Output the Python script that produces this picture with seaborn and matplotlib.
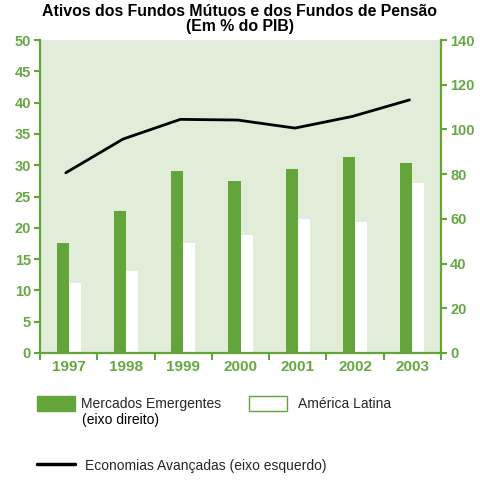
import numpy as np
import pandas as pd
import matplotlib
matplotlib.use("Agg")
import matplotlib.pyplot as plt
import matplotlib.patches as mpatches
from matplotlib.lines import Line2D
import seaborn as sns

anos = ["1997", "1998", "1999", "2000", "2001", "2002", "2003"]
mercados_emergentes = [17.6, 22.7, 29.1, 27.5, 29.4, 31.3, 30.4]
america_latina = [11.2, 13.1, 17.6, 18.8, 21.4, 20.9, 27.2]
economias_avancadas = [80.6, 95.7, 104.5, 104.2, 100.6, 105.8, 113.2]

titulo1 = "Ativos dos Fundos Mútuos e dos Fundos de Pensão"
titulo2 = "(Em % do PIB)"
lab_me = "Mercados Emergentes"
lab_me2 = "(eixo direito)"
lab_al = "América Latina"
lab_ea = "Economias Avançadas (eixo esquerdo)"

GREEN = "#63A53B"
TXT = "#66A843"
BG = "#E1EDD9"

sns.set_theme(style="white")
plt.rcParams["font.family"] = ["Liberation Sans", "DejaVu Sans"]

df = pd.DataFrame({
    "ano": anos * 2,
    "serie": ["ME"] * len(anos) + ["AL"] * len(anos),
    "valor": mercados_emergentes + america_latina,
})

fig = plt.figure(figsize=(4.8, 4.8), dpi=100)
ax = fig.add_axes([40 / 480, 1 - 353 / 480, 401 / 480, 313 / 480])
ax.set_facecolor(BG)

sns.barplot(data=df, x="ano", y="valor", hue="serie", hue_order=["ME", "AL"],
            palette={"ME": GREEN, "AL": "white"}, width=0.42, saturation=1,
            ax=ax, legend=False, errorbar=None, linewidth=0)
ax.set_xlim(-0.5, len(anos) - 0.5)
ax.set_ylim(0, 50)
ax.set_yticks(np.arange(0, 51, 5))
ax.set_xlabel("")
ax.set_ylabel("")

ax2 = ax.twinx()
sns.lineplot(x=np.arange(len(anos)) - 0.05, y=economias_avancadas, ax=ax2,
             color="black", linewidth=2)
ax2.set_ylim(0, 140)
ax2.set_yticks(np.arange(0, 141, 20))
ax2.set_xlim(-0.5, len(anos) - 0.5)

for a in (ax, ax2):
    for s in a.spines.values():
        s.set_visible(False)
ax.spines["left"].set_visible(True)
ax.spines["bottom"].set_visible(True)
ax2.spines["right"].set_visible(True)
for s in (ax.spines["left"], ax.spines["bottom"], ax2.spines["right"]):
    s.set_color(GREEN)
    s.set_linewidth(1.6)

ax.tick_params(axis="y", which="major", left=True, length=4.5, width=1.5,
               color=GREEN, labelcolor=TXT, labelsize=10.5, pad=2)
ax2.tick_params(axis="y", which="major", right=True, length=4.5, width=1.5,
                color=GREEN, labelcolor=TXT, labelsize=10.5, pad=2)
ax.set_xticks(np.arange(len(anos)))
ax.set_xticklabels(anos)
ax.set_xticks(np.arange(-0.5, len(anos)), minor=True)
ax.tick_params(axis="x", which="major", bottom=True, length=0, labelcolor=TXT,
               labelsize=11, pad=5)
ax.tick_params(axis="x", which="minor", bottom=True, length=5, width=1.5,
               color=GREEN)
for lbl in ax.get_xticklabels() + ax.get_yticklabels() + ax2.get_yticklabels():
    lbl.set_fontweight("bold")

fig.text(0.5, 1 - 15.5 / 480, titulo1, ha="center", va="baseline",
         fontsize=11.4, fontweight="bold", color="black")
fig.text(0.5, 1 - 30.5 / 480, titulo2, ha="center", va="baseline",
         fontsize=11.4, fontweight="bold", color="black")

h_me = mpatches.Patch(facecolor=GREEN, edgecolor=GREEN)
h_al = mpatches.Patch(facecolor="white", edgecolor=GREEN, linewidth=1)
h_ea = Line2D([], [], color="black", linewidth=2.5)

common = dict(frameon=False, fontsize=10, handlelength=2.75, handleheight=1.25,
              handletextpad=0.45, borderpad=0, borderaxespad=0)
fig.legend([h_me], [lab_me], loc="upper left",
           bbox_to_anchor=(37 / 480, 1 - 396 / 480), **common)
fig.text(82 / 480, 1 - 413 / 480, lab_me2, ha="left", va="top", fontsize=10,
         color="black")
fig.legend([h_al], [lab_al], loc="upper left",
           bbox_to_anchor=(249 / 480, 1 - 396 / 480),
           **{**common, "handletextpad": 0.75})
fig.legend([h_ea], [lab_ea], loc="upper left",
           bbox_to_anchor=(37 / 480, 1 - 458 / 480),
           **{**common, "handletextpad": 0.7})

fig.savefig("out.png", dpi=100, facecolor="white")
